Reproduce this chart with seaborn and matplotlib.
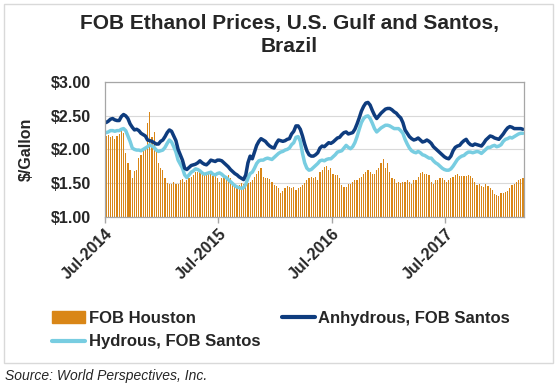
# Precios FOB de etanol: Houston (barras) y Santos anhidro / hidratado (lineas), semanal jul-2014 a mar-2018
import numpy as np
import pandas as pd
import seaborn as sns
import matplotlib.pyplot as plt
from matplotlib.patches import Patch, Rectangle
from matplotlib.lines import Line2D

# Datos ($/galon, semanal)
houston = [
    2.20, 2.21, 2.19, 2.20, 2.16, 2.20, 2.23,
    2.29, 2.25, 1.94, 1.79, 1.69, 1.57, 1.68, 1.70, 1.87, 1.92, 1.97, 2.04, 2.40,
    2.55, 2.18, 2.26, 1.97, 1.80, 1.72, 1.70, 1.57, 1.50, 1.49, 1.49, 1.51, 1.49,
    1.49, 1.54, 1.56, 1.51, 1.54, 1.57, 1.59, 1.62, 1.66, 1.67, 1.68, 1.65, 1.64,
    1.63, 1.66, 1.63, 1.60, 1.62, 1.57, 1.52, 1.57, 1.60, 1.57, 1.62, 1.58, 1.48,
    1.44, 1.45, 1.47, 1.50, 1.49, 1.47, 1.50, 1.51, 1.54, 1.59, 1.64, 1.68, 1.72,
    1.59, 1.57, 1.58, 1.56, 1.52, 1.47, 1.45, 1.42, 1.35, 1.38, 1.43, 1.45, 1.44,
    1.42, 1.44, 1.40, 1.42, 1.44, 1.47, 1.50, 1.54, 1.57, 1.59, 1.58, 1.59, 1.55,
    1.66, 1.69, 1.74, 1.76, 1.70, 1.72, 1.64, 1.62, 1.62, 1.57, 1.47, 1.44, 1.44,
    1.49, 1.49, 1.52, 1.54, 1.54, 1.57, 1.59, 1.64, 1.67, 1.69, 1.67, 1.64, 1.63,
    1.69, 1.72, 1.79, 1.85, 1.72, 1.79, 1.67, 1.57, 1.56, 1.50, 1.52, 1.50, 1.52,
    1.52, 1.54, 1.52, 1.48, 1.54, 1.55, 1.59, 1.65, 1.67, 1.64, 1.64, 1.62, 1.52,
    1.49, 1.54, 1.55, 1.57, 1.57, 1.54, 1.52, 1.54, 1.57, 1.59, 1.62, 1.64, 1.60,
    1.60, 1.61, 1.60, 1.62, 1.61, 1.57, 1.52, 1.47, 1.48, 1.46, 1.44, 1.48, 1.45,
    1.42, 1.39, 1.34, 1.32, 1.30, 1.35, 1.35, 1.37, 1.38, 1.42, 1.47, 1.49, 1.52, 1.54, 1.56, 1.58,
]
anhydrous = [
    2.40, 2.42, 2.45, 2.46, 2.44, 2.43, 2.43,
    2.49, 2.52, 2.50, 2.46, 2.38, 2.33, 2.29, 2.30, 2.28, 2.24, 2.22, 2.20, 2.14,
    2.13, 2.12, 2.10, 2.08, 2.08, 2.12, 2.14, 2.19, 2.25, 2.29, 2.27, 2.20, 2.13,
    2.00, 1.92, 1.84, 1.72, 1.70, 1.73, 1.76, 1.77, 1.78, 1.80, 1.83, 1.80, 1.78,
    1.77, 1.80, 1.84, 1.83, 1.82, 1.84, 1.84, 1.83, 1.80, 1.77, 1.74, 1.70, 1.67,
    1.64, 1.62, 1.59, 1.57, 1.55, 1.62, 1.80, 1.90, 1.86, 1.96, 2.06, 2.12, 2.16,
    2.14, 2.12, 2.08, 2.05, 2.03, 2.02, 2.09, 2.14, 2.13, 2.12, 2.13, 2.15, 2.16,
    2.23, 2.27, 2.35, 2.35, 2.30, 2.20, 2.08, 1.98, 1.92, 1.90, 1.90, 1.92, 1.95,
    2.02, 2.05, 2.04, 2.07, 2.10, 2.09, 2.11, 2.14, 2.17, 2.18, 2.22, 2.25, 2.26,
    2.23, 2.24, 2.25, 2.30, 2.38, 2.47, 2.57, 2.64, 2.69, 2.70, 2.66, 2.58, 2.51,
    2.46, 2.50, 2.54, 2.57, 2.60, 2.61, 2.61, 2.59, 2.56, 2.54, 2.50, 2.47, 2.40,
    2.29, 2.24, 2.19, 2.16, 2.14, 2.15, 2.17, 2.14, 2.11, 2.12, 2.14, 2.12, 2.09,
    2.04, 2.01, 1.98, 1.95, 1.92, 1.89, 1.87, 1.86, 1.90, 1.98, 2.03, 2.05, 2.06,
    2.10, 2.13, 2.15, 2.10, 2.07, 2.06, 2.08, 2.07, 2.06, 2.05, 2.09, 2.14, 2.17,
    2.20, 2.19, 2.17, 2.16, 2.15, 2.19, 2.23, 2.28, 2.32, 2.34, 2.33, 2.31, 2.31, 2.31, 2.31, 2.30,
]
hydrous = [
    2.25, 2.26, 2.28, 2.28, 2.27, 2.28, 2.28,
    2.30, 2.31, 2.28, 2.20, 2.12, 2.02, 2.00, 1.99, 1.99, 1.98, 2.00, 2.02, 2.04,
    2.07, 2.05, 2.03, 1.99, 1.97, 1.98, 1.99, 2.03, 2.09, 2.14, 2.11, 2.04, 1.96,
    1.84, 1.78, 1.72, 1.62, 1.58, 1.62, 1.66, 1.68, 1.71, 1.70, 1.68, 1.65, 1.63,
    1.64, 1.65, 1.66, 1.63, 1.62, 1.64, 1.65, 1.63, 1.60, 1.58, 1.55, 1.52, 1.49,
    1.46, 1.44, 1.43, 1.42, 1.43, 1.48, 1.57, 1.64, 1.66, 1.72, 1.79, 1.83, 1.84,
    1.84, 1.86, 1.87, 1.86, 1.85, 1.88, 1.91, 1.94, 1.96, 1.97, 1.99, 2.00, 2.02,
    2.07, 2.10, 2.18, 2.19, 2.12, 1.94, 1.80, 1.72, 1.69, 1.70, 1.73, 1.76, 1.79,
    1.83, 1.84, 1.83, 1.85, 1.86, 1.86, 1.89, 1.92, 1.96, 1.97, 1.98, 2.02, 2.06,
    2.03, 2.01, 2.04, 2.10, 2.19, 2.30, 2.40, 2.46, 2.49, 2.50, 2.46, 2.39, 2.31,
    2.26, 2.29, 2.32, 2.34, 2.36, 2.36, 2.35, 2.33, 2.31, 2.31, 2.31, 2.28, 2.24,
    2.15, 2.08, 2.02, 1.98, 1.96, 1.95, 1.97, 1.95, 1.92, 1.91, 1.89, 1.87, 1.87,
    1.83, 1.80, 1.78, 1.75, 1.72, 1.70, 1.69, 1.69, 1.71, 1.75, 1.80, 1.85, 1.88,
    1.90, 1.91, 1.94, 1.96, 1.96, 1.95, 1.96, 1.97, 1.96, 1.94, 1.97, 2.00, 2.03,
    2.03, 2.05, 2.06, 2.04, 2.05, 2.07, 2.12, 2.15, 2.16, 2.18, 2.17, 2.19, 2.21, 2.23, 2.24, 2.24,
]
inicio = '2014-07-05'
yticks = [1.0, 1.5, 2.0, 2.5, 3.0]

naranja = '#D98617'
azul = '#0E3C7E'
celeste = '#78CDE1'
gris = '#A6A6A6'

semanas = pd.date_range(inicio, periods=len(houston), freq='7D')
df = pd.DataFrame({'semana': semanas, 'houston': houston,
                   'anhydrous': anhydrous, 'hydrous': hydrous})
df['pos'] = np.arange(len(df))

sns.set_style('white')
plt.rcParams['font.family'] = ['Liberation Sans', 'DejaVu Sans']

fig = plt.figure(figsize=(5.6, 3.88), dpi=100)
ax = fig.add_axes([0.1875, 0.442, 0.7482, 0.3459])

# barras finas, sin borde (el estilo de seaborn pone borde blanco)
sns.barplot(data=df, x='pos', y='houston', color=naranja, saturation=1,
            width=0.55, errorbar=None, native_scale=True, ax=ax,
            linewidth=0, edgecolor='none', antialiased=False)
sns.lineplot(data=df, x='pos', y='hydrous', color=celeste, linewidth=2.5, ax=ax)
sns.lineplot(data=df, x='pos', y='anhydrous', color=azul, linewidth=2.5, ax=ax)

ax.set_xlim(-0.5, len(df) - 0.5)
ax.set_ylim(1, 3)

# ticks en el primer dato de cada julio
julios = df[(df['semana'].dt.month == 7) & (df['semana'].dt.day <= 7)]
ax.set_xticks(julios['pos'] - 0.5)
ax.set_xticklabels([f"Jul-{d.year}" for d in julios['semana']], rotation=45,
                   ha='right', rotation_mode='anchor', fontweight='bold', fontsize=11.5)
ax.tick_params(axis='x', length=4, color=gris, width=1, pad=3, bottom=True)

ax.set_yticks(yticks)
ax.set_yticklabels([f"${v:.2f}" for v in yticks], fontweight='bold', fontsize=11.5)
ax.tick_params(axis='y', length=0, pad=10)
ax.yaxis.grid(True, color='#D9D9D9', linewidth=0.8)
ax.set_axisbelow(True)

for s in ax.spines.values():
    s.set_color(gris)
    s.set_linewidth(0.9)

ax.set_xlabel('')
ax.set_ylabel('$/Gallon', fontweight='bold', fontsize=11.5)
ax.yaxis.set_label_coords(-0.17, 0.5)

fig.text(289 / 560, 1 - 14 / 388, 'FOB Ethanol Prices, U.S. Gulf and Santos,\nBrazil',
         ha='center', va='top', fontsize=15, fontweight='bold', linespacing=1.3)

handles = [Patch(color=naranja),
           Line2D([], [], color=celeste, linewidth=3),
           Line2D([], [], color=azul, linewidth=3)]
labels = ['FOB Houston', 'Hydrous, FOB Santos', 'Anhydrous, FOB Santos']
fig.legend(handles, labels, ncol=2, loc='upper left',
           bbox_to_anchor=(52 / 560, 1 - 311 / 388), frameon=False,
           prop={'weight': 'bold', 'size': 12}, handlelength=2.0,
           handletextpad=0.2, columnspacing=1.3, labelspacing=0.5,
           borderpad=0, borderaxespad=0)

fig.text(5 / 560, 1 - 376 / 388, 'Source: World Perspectives, Inc.',
         fontsize=10, style='italic', va='center')

fig.add_artist(Rectangle((4 / 560, 1 - 363 / 388), 549 / 560, 359 / 388,
                         transform=fig.transFigure, fill=False,
                         edgecolor='#D9D9D9', linewidth=1))

fig.savefig('out.png', dpi=100)
